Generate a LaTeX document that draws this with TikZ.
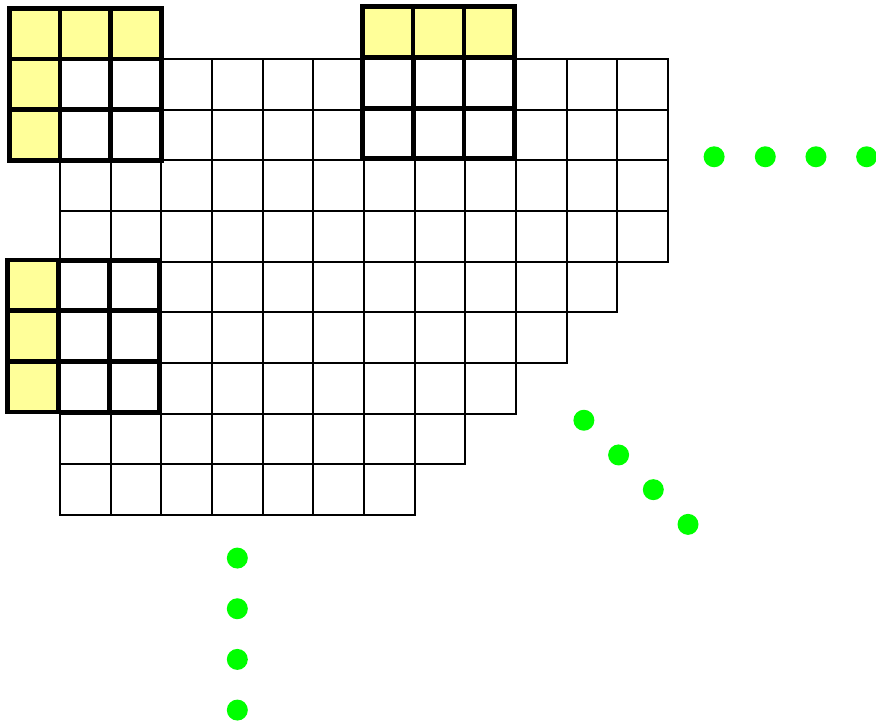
\documentclass[tikz,border=0pt]{standalone}
\usepackage{tikz}
\definecolor{paleyellow}{HTML}{FFFF99}
\definecolor{brightgreen}{HTML}{00FF00}
\tikzset{
  every picture/.style={line join=miter},
  cellline/.style={line width=1.2pt},
  blockline/.style={line width=2.6pt, line cap=rect},
  dotfill/.style={fill=brightgreen},
}

\begin{document}
\begin{tikzpicture}
\useasboundingbox (-1.184,1.164) rectangle (16.105,-13.085);
\foreach \r/\n in {0/12,1/12,2/12,3/12,4/11,5/10,6/9,7/8,8/7}
  \foreach \c in {1,...,\n}
    \draw[cellline] (\c-1,-\r) rectangle (\c,-\r-1);
\fill[paleyellow] (-1,1) rectangle (2,0);
\fill[paleyellow] (-1,0) rectangle (0,-2);
\draw[blockline] (-1,-2) grid (2,1);
\begin{scope}[shift={(-0.03,0.03)}]
\fill[paleyellow] (6,1) rectangle (9,0);
\draw[blockline] (6,-2) grid (9,1);
\end{scope}
\begin{scope}[shift={(-0.03,0.03)}]
\fill[paleyellow] (-1,-4) rectangle (0,-7);
\draw[blockline] (-1,-7) grid (2,-4);
\end{scope}
\foreach \x in {12.91,13.92,14.92,15.92}
  \fill[dotfill] (\x,-1.93) circle[radius=0.207];
\foreach \i in {0,...,3}
  \fill[dotfill] ({10.34+0.685*\i},{-7.13-0.685*\i}) circle[radius=0.207];
\foreach \y in {-9.85,-10.85,-11.85,-12.85}
  \fill[dotfill] (3.5,\y) circle[radius=0.207];
\end{tikzpicture}
\end{document}
